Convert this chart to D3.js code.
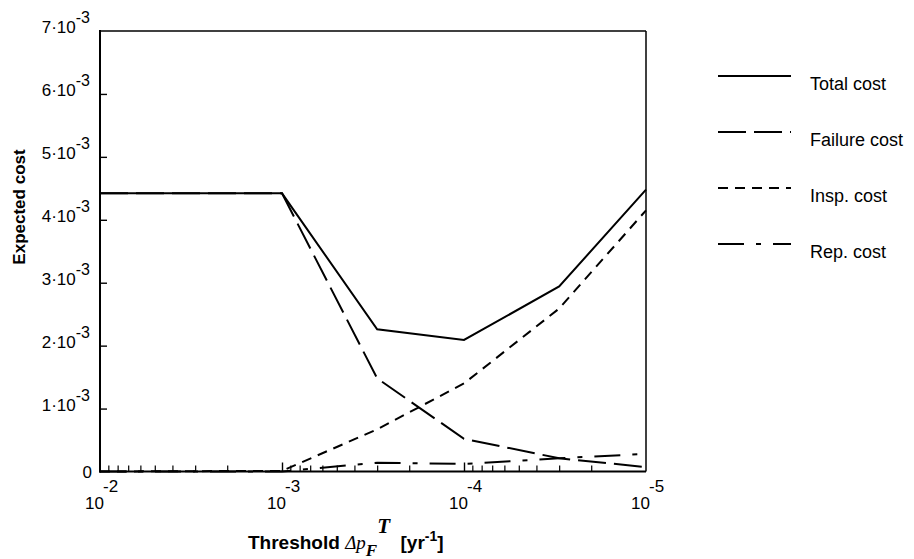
<!DOCTYPE html>
<html>
<head>
<meta charset="utf-8">
<script src="https://cdn.jsdelivr.net/npm/d3@7"></script>
<style>
  body { margin: 0; background: #fff; }
  text { font-family: "Liberation Sans", Arial, Helvetica, sans-serif; fill: #000; }
</style>
</head>
<body>
<svg id="chart" width="914" height="559"></svg>
<script>
// thresholds (x) and costs in units of 1e-3
var thresholds  = [1e-2, 1e-3, 3e-4, 1e-4, 3e-5, 1e-5];
var totalCost   = [4.42, 4.42, 2.26, 2.09, 2.94, 4.48];
var failureCost = [4.42, 4.42, 1.48, 0.52, 0.21, 0.07];
var inspCost    = [0.00, 0.01, 0.67, 1.40, 2.59, 4.15];
var repCost     = [0.00, 0.00, 0.14, 0.12, 0.21, 0.28];

var yTickVals = [0, 1, 2, 3, 4, 5, 6, 7];
var xMajor = [1e-2, 1e-3, 1e-4, 1e-5];
var seriesNames = ["Total cost", "Failure cost", "Insp. cost", "Rep. cost"];

const margin = {top: 31, right: 268, bottom: 87.5, left: 100};
var width = 914 - margin.left - margin.right;
var height = 559 - margin.top - margin.bottom;

var svg = d3.select("#chart");
var g = svg.append("g").attr("transform", "translate(" + margin.left + "," + margin.top + ")");

var x = d3.scaleLog().domain([1e-2, 1e-5]).range([0, width]);
var y = d3.scaleLinear().domain([0, 7]).range([height, 0]);

// minor log ticks
var xMinor = [];
[1e-3, 1e-4, 1e-5].forEach(function(d){
    for (var k = 2; k <= 9; k++) xMinor.push(k * d);
});

g.append("g")
    .attr("transform", "translate(0," + height + ")")
    .call(d3.axisBottom(x).tickValues(xMinor).tickSizeInner(-6).tickSizeOuter(0).tickFormat(""))
    .call(s => s.select(".domain").remove())
    .selectAll("line").attr("stroke-width", 1.2);

g.append("g")
    .attr("transform", "translate(0," + height + ")")
    .call(d3.axisBottom(x).tickValues(xMajor.slice(1, 3)).tickSizeInner(-9).tickSizeOuter(0).tickFormat(""))
    .call(s => s.select(".domain").remove())
    .selectAll("line").attr("stroke-width", 1.4);

g.append("g")
    .call(d3.axisLeft(y).tickValues(yTickVals.slice(1, 7)).tickSizeInner(-7).tickSizeOuter(0).tickFormat(""))
    .call(s => s.select(".domain").remove())
    .selectAll("line").attr("stroke-width", 1.4);

// frame
g.append("line").attr("x1", 0).attr("x2", width).attr("y1", 0).attr("y2", 0).attr("stroke", "#000").attr("stroke-width", 1.5);
g.append("line").attr("x1", width).attr("x2", width).attr("y1", 0).attr("y2", height).attr("stroke", "#000").attr("stroke-width", 1.5);
g.append("line").attr("x1", 0).attr("x2", 0).attr("y1", -1).attr("y2", height + 1).attr("stroke", "#000").attr("stroke-width", 2);
g.append("line").attr("x1", -1).attr("x2", width).attr("y1", height).attr("y2", height).attr("stroke", "#000").attr("stroke-width", 2);

// y tick labels
yTickVals.forEach(function(v){
    var t = g.append("text")
        .attr("x", -10)
        .attr("y", y(v) + 2)
        .attr("text-anchor", "end")
        .style("font-size", "17px");
    if (v === 0) {
        t.attr("x", -8).attr("y", y(v) + 6).text("0");
    } else {
        t.append("tspan").text(v + "\u00b710");
        t.append("tspan").attr("dy", -10).style("font-size", "16px").text("-3");
    }
});

// x tick labels
xMajor.forEach(function(v){
    var e = Math.round(Math.log10(v));
    g.append("text")
        .attr("x", x(v) + 4)
        .attr("y", height + 37)
        .attr("text-anchor", "end")
        .style("font-size", "17px")
        .text("10");
    g.append("text")
        .attr("x", x(v) + 3)
        .attr("y", height + 20)
        .style("font-size", "17px")
        .text(String(e));
});

// lines
var seriesData = [totalCost, failureCost, inspCost, repCost];
var dashes = [null, "28,8", "10,7", "26,12,5,12"];

var line = d3.line()
    .x((d, i) => x(thresholds[i]))
    .y(d => y(d));

seriesData.forEach(function(s, i){
    g.append("path")
        .datum(s)
        .attr("d", line)
        .attr("fill", "none")
        .attr("stroke", "#000")
        .attr("stroke-width", 2)
        .attr("stroke-dasharray", dashes[i]);
});

// legend
var legend = svg.append("g").attr("transform", "translate(718,76)");
seriesNames.forEach(function(n, i){
    var ly = i * 56;
    legend.append("line")
        .attr("x1", 0).attr("x2", 73)
        .attr("y1", ly).attr("y2", ly)
        .attr("stroke", "#000")
        .attr("stroke-width", 2)
        .attr("stroke-dasharray", dashes[i]);
    legend.append("text")
        .attr("x", 92)
        .attr("y", ly + 14)
        .style("font-size", "18px")
        .text(n);
});

// axis titles
svg.append("text")
    .attr("transform", "translate(25,207) rotate(-90)")
    .attr("text-anchor", "middle")
    .style("font-size", "17px")
    .style("font-weight", "bold")
    .text("Expected cost");

var serif = "'Liberation Serif', 'Times New Roman', serif";
var xt = svg.append("text")
    .attr("x", 248)
    .attr("y", 549)
    .style("font-size", "19px")
    .style("font-weight", "bold");
xt.append("tspan").text("Threshold ");
xt.append("tspan").style("font-family", serif).style("font-style", "italic").style("font-weight", "normal").text("\u0394p");
xt.append("tspan").attr("dy", 7).style("font-family", serif).style("font-style", "italic").style("font-size", "17px").text("F");
xt.append("tspan").attr("dy", -23).style("font-family", serif).style("font-style", "italic").style("font-size", "21px").text("T");
xt.append("tspan").attr("dy", 16).text(" \u00a0[yr");
xt.append("tspan").attr("dy", -8).style("font-size", "14px").text("-1");
xt.append("tspan").attr("dy", 8).text("]");
</script>
</body>
</html>
